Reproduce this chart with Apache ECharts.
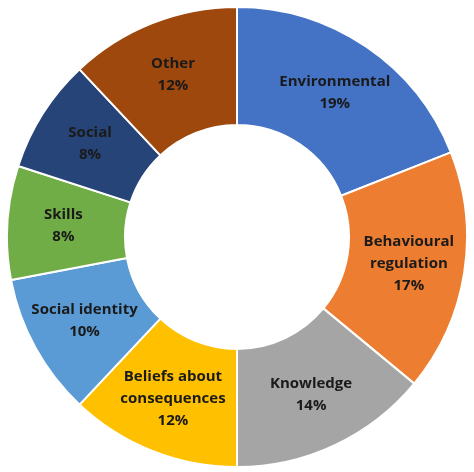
<!DOCTYPE html>
<html><head><meta charset="utf-8">
<script src="https://cdn.jsdelivr.net/npm/echarts@6/dist/echarts.min.js"></script>
<style>html,body{margin:0;padding:0;background:#fff}#c{width:474px;height:472px}</style>
</head><body><div id="c"></div>
<script>
const categories = ["Environmental","Behavioural\nregulation","Knowledge","Beliefs about\nconsequences","Social identity","Skills","Social","Other"];
const values = [19,17,14,12,10,8,8,12];
const colors = ["#4472C4","#ED7D31","#A5A5A5","#FFC000","#5B9BD5","#70AD47","#264478","#9E480E"];
const chart = echarts.init(document.getElementById('c'));
chart.setOption({
  animation:false,
  series:[{
    type:'pie', center:[237,237], radius:[112,230], startAngle:90, clockwise:true,
    itemStyle:{borderColor:'#fff',borderWidth:2},
    label:{position:'inside',formatter:p=>p.name+'\n'+p.value+'%',color:'#1a1a1a',
      fontFamily:'Open Sans',fontWeight:'bold',fontSize:15,lineHeight:22,align:'center'},
    labelLine:{show:false},
    data:categories.map((n,i)=>({name:n,value:values[i],itemStyle:{color:colors[i]}}))
  }]
});
</script></body></html>
